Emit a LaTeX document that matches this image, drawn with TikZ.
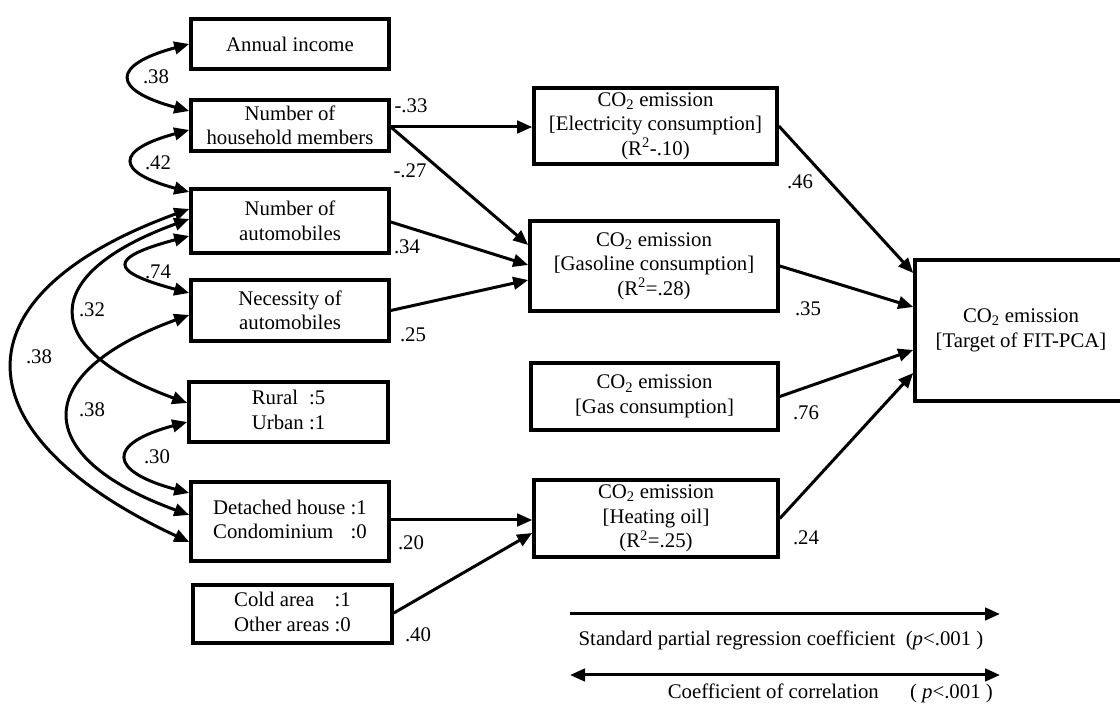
\documentclass[tikz,border=0pt]{standalone}
\usepackage{fontspec}
\setmainfont{Liberation Serif}
\usetikzlibrary{arrows.meta}
\begin{document}
\begin{tikzpicture}[x=1pt,y=1pt,
  txt/.style={font=\fontsize{20.8}{24.5}\selectfont},
  box/.style={txt, draw, line width=3.6pt, inner sep=0pt, align=center},
  lbl/.style={txt, inner sep=0pt},
  tip/.tip={Triangle[length=15pt,width=12.5pt]},
  effect/.style={line width=3pt, -tip},
  corr/.style={line width=3pt, tip-tip},
]
\useasboundingbox (0,0) rectangle (1120,704);

% observed variables (left column)
\node[box, minimum width=198pt, minimum height=50pt] (inc) at (290,660) {Annual income};
\node[box, minimum width=198pt, minimum height=51pt] (hh) at (290,578.5) {Number of\\household members};
\node[box, minimum width=198pt, minimum height=64pt] (auto) at (290,483) {Number of\\automobiles};
\node[box, minimum width=198pt, minimum height=61pt] (nec) at (290,393.5) {Necessity of\\automobiles};
\node[box, minimum width=199pt, minimum height=60pt] (rur) at (288.5,292)
  {\begin{tabular}{@{}l@{\ }l@{}}Rural & :5\\ Urban & :1\end{tabular}};
\node[box, minimum width=198pt, minimum height=79pt] (det) at (290,182.5)
  {\begin{tabular}{@{}l@{\ }l@{}}Detached house & :1\\ Condominium & :0\end{tabular}};
\node[box, minimum width=199pt, minimum height=58pt] (cold) at (292.5,90)
  {\begin{tabular}{@{}l@{\ }l@{}}Cold area & :1\\ Other areas & :0\end{tabular}};

% emission blocks
\node[box, minimum width=243pt, minimum height=76pt] (elec) at (655.5,578)
  {CO\textsubscript{2} emission\\{[}Electricity consumption{]}\\(R\textsuperscript{2}-.10)};
\node[box, minimum width=248pt, minimum height=90pt] (gasl) at (654,438)
  {CO\textsubscript{2} emission\\{[}Gasoline consumption{]}\\(R\textsuperscript{2}=.28)};
\node[box, minimum width=247pt, minimum height=67pt] (gas) at (654.5,307.5)
  {CO\textsubscript{2} emission\\{[}Gas consumption{]}};
\node[box, minimum width=244pt, minimum height=77pt] (heat) at (656,185.5)
  {CO\textsubscript{2} emission\\{[}Heating oil{]}\\(R\textsuperscript{2}=.25)};
\node[box, minimum width=212pt, minimum height=141pt] (tgt) at (1021,373.5)
  {CO\textsubscript{2} emission\\{[}Target of FIT-PCA{]}};

% correlations
\draw[corr] (inc.west) to[out=195,in=165,distance=81pt] ([yshift=14.5pt]hh.west);
\draw[corr] ([yshift=-4.5pt]hh.west) to[out=195,in=165,distance=77pt] ([yshift=29pt]auto.west);
\draw[corr] ([yshift=12pt]auto.west) to[out=200,in=155,distance=254pt] ([yshift=-20.5pt]det.west);
\draw[corr] ([yshift=2pt]auto.west) to[out=200,in=160,distance=160pt] ([yshift=9pt]rur.west);
\draw[corr] ([yshift=-15pt]auto.west) to[out=195,in=165,distance=84pt] ([yshift=17.5pt]nec.west);
\draw[corr] ([yshift=-4.5pt]nec.west) to[out=200,in=160,distance=170pt] ([yshift=6.5pt]det.west);
\draw[corr] ([yshift=-10pt]rur.west) to[out=195,in=165,distance=84pt] ([yshift=28.5pt]det.west);

\node[lbl] (c1) at (156,627) {.38};
\node[lbl] (c2) at (158,541) {.42};
\node[lbl] (c3) at (39,347) {.38};
\node[lbl] (c4) at (92,394) {.32};
\node[lbl] (c5) at (158,432) {.74};
\node[lbl] (c6) at (92,294) {.38};
\node[lbl] (c7) at (157,247) {.30};

% standard partial regression paths
\draw[effect] ([yshift=-1.5pt]hh.east) -- ([yshift=-1pt]elec.west);
\draw[effect] ([yshift=-1.5pt]hh.east) -- ([yshift=21pt]gasl.west);
\draw[effect] ([yshift=-1pt]auto.east) -- ([yshift=1pt]gasl.west);
\draw[effect] (nec.east) -- ([yshift=-14pt]gasl.west);
\draw[effect] ([yshift=1.5pt]det.east) -- ([yshift=-1.5pt]heat.west);
\draw[effect] ([yshift=1pt]cold.east) -- ([yshift=-14.5pt]heat.west);
\draw[effect] (elec.east) -- ([yshift=57.5pt]tgt.west);
\draw[effect] (gasl.east) -- ([yshift=23.5pt]tgt.west);
\draw[effect] (gas.east) -- ([yshift=-19.5pt]tgt.west);
\draw[effect] (heat.east) -- ([yshift=-42.5pt]tgt.west);

\node[lbl] (p1) at (411,598) {-.33};
\node[lbl] (p2) at (410,533) {-.27};
\node[lbl] (p3) at (407,457) {.34};
\node[lbl] (p4) at (413,369) {.25};
\node[lbl] (p5) at (411,161) {.20};
\node[lbl] (p6) at (418,69) {.40};
\node[lbl] (p7) at (800,522) {.46};
\node[lbl] (p8) at (808,395) {.35};
\node[lbl] (p9) at (806,291) {.76};
\node[lbl] (p10) at (806,166) {.24};

% legend
\coordinate (la) at (570,90);
\coordinate (lb) at (1000,90);
\coordinate (lc) at (570,29);
\coordinate (ld) at (1000,29);
\draw[effect] (la) -- (lb);
\draw[corr] (lc) -- (ld);
\node[lbl] (leg1) at (781,64) {Standard partial regression coefficient\ \ (\textit{p}<.001 )};
\node[lbl, anchor=east] (leg2) at (993,11) {Coefficient of correlation\quad\ \ ( \textit{p}<.001 )};
\end{tikzpicture}
\end{document}
